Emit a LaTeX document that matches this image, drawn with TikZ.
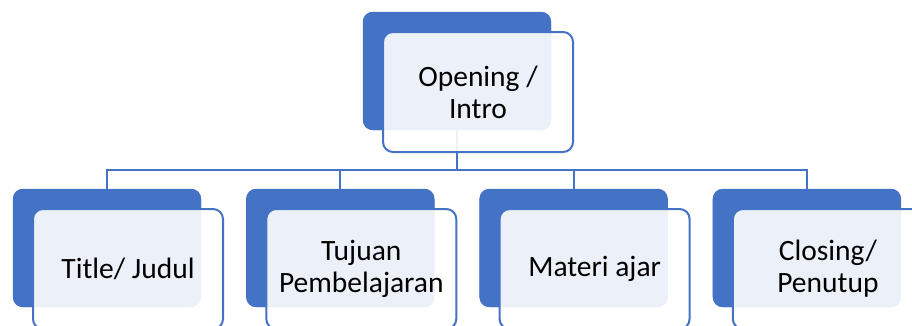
\documentclass[tikz,border=0pt]{standalone}
\usepackage{fontspec}
\setmainfont{Carlito}
\usetikzlibrary{calc}
\definecolor{accent}{HTML}{4472C4}
\tikzset{
  backbox/.style={rectangle, rounded corners=10pt, fill=accent, draw=none,
    minimum width=188pt, minimum height=118pt, inner sep=0pt},
  frontbox/.style={rectangle, rounded corners=10pt, draw=accent, line width=2pt,
    fill=white, fill opacity=0.9, text opacity=1, text=black,
    minimum width=190pt, minimum height=120pt, inner sep=2pt,
    align=center, font=\fontsize{29.5}{32}\selectfont},
  conn/.style={draw=accent, line width=2.2pt}
}
\begin{document}
\begin{tikzpicture}[x=1pt, y=-1pt]
\useasboundingbox (0,0) rectangle (912,325);
% level of the horizontal bus line
\coordinate (bus) at (0,170);

% back plates (positions only, connectors need them first)
\node[backbox] (topback) at (457,71) {};
\node[backbox] (b1back) at (107,248) {};
\node[backbox] (b2back) at (340.3,248) {};
\node[backbox] (b3back) at (573.6,248) {};
\node[backbox] (b4back) at (806.9,248) {};

% connectors
\draw[conn] (topback.south) -- (topback.south |- bus);
\draw[conn] (b1back.north) -- (b1back.north |- bus) -- (b4back.north |- bus) -- (b4back.north);
\draw[conn] (b2back.north |- bus) -- (b2back.north);
\draw[conn] (b3back.north |- bus) -- (b3back.north);

% redraw the plates over the connectors, then the text boxes
\foreach \n in {topback,b1back,b2back,b3back,b4back}
  \fill[accent, rounded corners=10pt] (\n.north west) rectangle (\n.south east);

\node[frontbox] (top) at ($(topback)+(21,21)$) {Opening /\\Intro};
\node[frontbox] (b1) at ($(b1back)+(21,21)$) {Title/ Judul};
\node[frontbox] (b2) at ($(b2back)+(21,21)$) {Tujuan\\Pembelajaran};
\node[frontbox] (b3) at ($(b3back)+(21,21)$) {Materi ajar};
\node[frontbox] (b4) at ($(b4back)+(21,21)$) {Closing/\\Penutup};
\end{tikzpicture}
\end{document}
